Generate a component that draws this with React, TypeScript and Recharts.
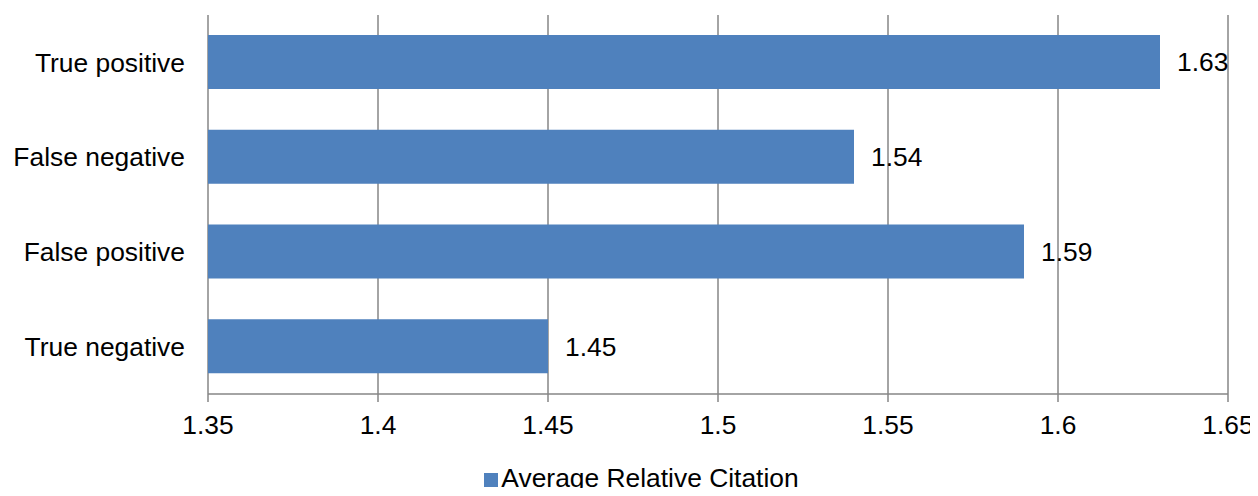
import React from "react";
import { BarChart, Bar, XAxis, YAxis, CartesianGrid, Legend, LabelList } from "recharts";

const categories = ["True positive", "False negative", "False positive", "True negative"];
const values = [1.63, 1.54, 1.59, 1.45];
const xTicks = [1.35, 1.4, 1.45, 1.5, 1.55, 1.6, 1.65];
const seriesName = "Average Relative Citation";
const barColor = "#4F81BD";

const data = categories.map((c, i) => ({ name: c, value: values[i] }));

const FONT = "'Liberation Sans', Arial, sans-serif";
const GREY = "#868686";
const FS = 26.4;

const LegendContent = () => (
  <div
    style={{
      display: "flex",
      justifyContent: "center",
      alignItems: "center",
      paddingLeft: 55,
      height: 30,
      lineHeight: "30px",
      fontFamily: FONT,
      fontSize: FS,
      color: "#000",
    }}
  >
    <span
      style={{
        display: "inline-block",
        width: 14,
        height: 14,
        background: barColor,
        marginRight: 3,
        position: "relative",
        top: 2,
      }}
    />
    <span>{seriesName}</span>
  </div>
);

export default function App() {
  return (
    <div style={{ margin: -8, width: 1258, height: 496, background: "#fff", fontFamily: FONT }}>
      <BarChart
        width={1258}
        height={496}
        data={data}
        layout="vertical"
        margin={{ top: 15, right: 30, bottom: 3, left: 0 }}
        barSize={54}
      >
        <CartesianGrid horizontal={false} vertical={true} stroke={GREY} strokeWidth={1.5} />
        <XAxis
          type="number"
          domain={[1.35, 1.65]}
          ticks={xTicks}
          interval={0}
          allowDataOverflow
          stroke={GREY}
          strokeWidth={1.5}
          tickSize={8}
          tickMargin={13}
          height={69}
          tick={{ fill: "#000", fontSize: FS, fontFamily: FONT }}
        />
        <YAxis
          yAxisId="grid"
          type="number"
          domain={[0, 4]}
          ticks={[0, 1, 2, 3, 4]}
          interval={0}
          width={0}
          tickFormatter={() => ""}
          tickSize={8}
          stroke={GREY}
          strokeWidth={1.5}
        />
        <YAxis
          yAxisId="cat"
          type="category"
          dataKey="name"
          width={208}
          axisLine={false}
          tickLine={false}
          tickSize={0}
          tickMargin={23}
          tick={{ fill: "#000", fontSize: FS, fontFamily: FONT }}
        />
        <Legend verticalAlign="bottom" align="center" content={<LegendContent />} />
        <Bar yAxisId="cat" dataKey="value" name={seriesName} fill={barColor} isAnimationActive={false}>
          <LabelList
            dataKey="value"
            position="right"
            offset={17}
            fill="#000"
            fontSize={FS}
            fontFamily={FONT}
          />
        </Bar>
      </BarChart>
    </div>
  );
}
